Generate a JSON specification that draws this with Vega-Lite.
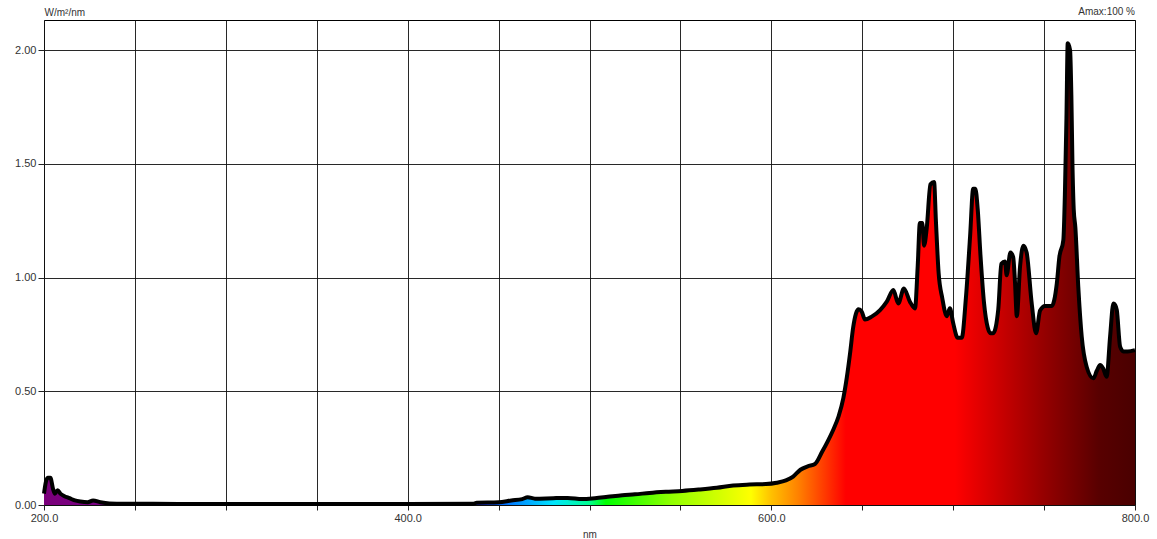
{
  "$schema": "https://vega.github.io/schema/vega-lite/v6.json",
  "width": 1091,
  "height": 485,
  "autosize": {"type": "none"},
  "padding": {"left": 44, "top": 20, "right": 22, "bottom": 34},
  "background": "white",
  "config": {
    "view": {"stroke": "black", "strokeWidth": 1},
    "font": "Liberation Sans",
    "axis": {
      "gridColor": "#111",
      "gridWidth": 1,
      "gridOpacity": 0.9,
      "domain": false,
      "tickColor": "#222",
      "labelColor": "#333",
      "labelFont": "Liberation Sans",
      "labelFontSize": 11,
      "titleFont": "Liberation Sans",
      "titleFontWeight": "normal",
      "titleColor": "#333"
    }
  },
  "title": {
    "text": "Amax:100 %",
    "anchor": "end",
    "frame": "group",
    "fontSize": 10,
    "fontWeight": "normal",
    "font": "Liberation Sans",
    "color": "#333",
    "offset": 3,
    "dy": 13
  },
  "data": {
    "values": [
      {"nm": 200, "v": 0.05}, {"nm": 201, "v": 0.1}, {"nm": 202, "v": 0.12}, {"nm": 203.5, "v": 0.12},
      {"nm": 205, "v": 0.07}, {"nm": 206, "v": 0.05}, {"nm": 207.5, "v": 0.065}, {"nm": 209, "v": 0.05},
      {"nm": 211, "v": 0.04}, {"nm": 214, "v": 0.03}, {"nm": 217, "v": 0.02}, {"nm": 220, "v": 0.015},
      {"nm": 224, "v": 0.012}, {"nm": 227, "v": 0.02}, {"nm": 231, "v": 0.012}, {"nm": 236, "v": 0.007},
      {"nm": 260, "v": 0.005}, {"nm": 300, "v": 0.004}, {"nm": 350, "v": 0.004}, {"nm": 400, "v": 0.004},
      {"nm": 436, "v": 0.005}, {"nm": 438, "v": 0.01}, {"nm": 450, "v": 0.012}, {"nm": 457, "v": 0.02},
      {"nm": 463, "v": 0.026}, {"nm": 466, "v": 0.034}, {"nm": 470, "v": 0.028}, {"nm": 480, "v": 0.03},
      {"nm": 488, "v": 0.031}, {"nm": 496, "v": 0.026}, {"nm": 503, "v": 0.03}, {"nm": 510, "v": 0.036},
      {"nm": 518, "v": 0.043}, {"nm": 525, "v": 0.047}, {"nm": 533, "v": 0.053}, {"nm": 542, "v": 0.058},
      {"nm": 551, "v": 0.062}, {"nm": 560, "v": 0.068}, {"nm": 570, "v": 0.076}, {"nm": 579, "v": 0.086},
      {"nm": 588, "v": 0.09}, {"nm": 597, "v": 0.092}, {"nm": 603, "v": 0.098}, {"nm": 608, "v": 0.108},
      {"nm": 612, "v": 0.125}, {"nm": 616, "v": 0.155}, {"nm": 620, "v": 0.17}, {"nm": 624, "v": 0.18},
      {"nm": 628, "v": 0.235}, {"nm": 631, "v": 0.28}, {"nm": 634, "v": 0.33}, {"nm": 637, "v": 0.39},
      {"nm": 639.6, "v": 0.47}, {"nm": 641.5, "v": 0.56}, {"nm": 643.3, "v": 0.667}, {"nm": 645, "v": 0.78},
      {"nm": 646.5, "v": 0.84}, {"nm": 648, "v": 0.86}, {"nm": 649.7, "v": 0.85}, {"nm": 651.5, "v": 0.815},
      {"nm": 655.2, "v": 0.828}, {"nm": 659.8, "v": 0.857}, {"nm": 663.5, "v": 0.894}, {"nm": 667.1, "v": 0.945},
      {"nm": 669.8, "v": 0.886}, {"nm": 672.9, "v": 0.952}, {"nm": 676.2, "v": 0.894}, {"nm": 679, "v": 0.864},
      {"nm": 680.5, "v": 1.05}, {"nm": 681.7, "v": 1.24}, {"nm": 683, "v": 1.24}, {"nm": 684, "v": 1.14},
      {"nm": 685.5, "v": 1.22}, {"nm": 687.5, "v": 1.41}, {"nm": 689.5, "v": 1.42}, {"nm": 690.5, "v": 1.25},
      {"nm": 692, "v": 1.02}, {"nm": 694, "v": 0.91}, {"nm": 696.5, "v": 0.83}, {"nm": 698.2, "v": 0.865},
      {"nm": 700, "v": 0.8}, {"nm": 702.5, "v": 0.735}, {"nm": 704.7, "v": 0.735}, {"nm": 707, "v": 0.91},
      {"nm": 709.3, "v": 1.18}, {"nm": 711, "v": 1.39}, {"nm": 712.2, "v": 1.39}, {"nm": 713.5, "v": 1.3},
      {"nm": 715, "v": 1.1}, {"nm": 717, "v": 0.886}, {"nm": 719, "v": 0.78}, {"nm": 720.5, "v": 0.755},
      {"nm": 722, "v": 0.755}, {"nm": 724.8, "v": 0.86}, {"nm": 726.5, "v": 1.06}, {"nm": 728.5, "v": 1.07},
      {"nm": 729.4, "v": 1.01}, {"nm": 731.5, "v": 1.11}, {"nm": 733, "v": 1.09}, {"nm": 734, "v": 0.98},
      {"nm": 735, "v": 0.83}, {"nm": 736.8, "v": 1.05}, {"nm": 738.6, "v": 1.14}, {"nm": 740.4, "v": 1.11},
      {"nm": 743.2, "v": 0.886}, {"nm": 745.6, "v": 0.755}, {"nm": 747.8, "v": 0.855}, {"nm": 750.5, "v": 0.875},
      {"nm": 754.2, "v": 0.875}, {"nm": 757, "v": 0.974}, {"nm": 758.4, "v": 1.09}, {"nm": 760.6, "v": 1.165},
      {"nm": 761.5, "v": 1.385}, {"nm": 762.3, "v": 1.7}, {"nm": 763, "v": 2.03}, {"nm": 764.3, "v": 2.0},
      {"nm": 765, "v": 1.8}, {"nm": 765.6, "v": 1.5}, {"nm": 766.3, "v": 1.3}, {"nm": 767.2, "v": 1.22},
      {"nm": 768.8, "v": 0.96}, {"nm": 770.7, "v": 0.74}, {"nm": 773.4, "v": 0.608}, {"nm": 777.1, "v": 0.557},
      {"nm": 779, "v": 0.59}, {"nm": 780.8, "v": 0.615}, {"nm": 782.5, "v": 0.6}, {"nm": 784.4, "v": 0.564},
      {"nm": 786.3, "v": 0.74}, {"nm": 788.1, "v": 0.886}, {"nm": 789, "v": 0.88}, {"nm": 790, "v": 0.857},
      {"nm": 791.8, "v": 0.696}, {"nm": 793.6, "v": 0.675}, {"nm": 796, "v": 0.675}, {"nm": 800, "v": 0.681}
    ]
  },
  "encoding": {
    "x": {
      "field": "nm",
      "type": "quantitative",
      "scale": {"domain": [200, 800], "nice": false, "zero": false},
      "axis": {
        "title": "nm",
        "titleFontSize": 10,
        "titlePadding": 6,
        "values": [200, 250, 300, 350, 400, 450, 500, 550, 600, 650, 700, 750, 800],
        "labelExpr": "datum.value % 200 == 0 ? format(datum.value, '.1f') : ''",
        "tickSize": 5,
        "labelPadding": 2,
        "labelFlush": false,
        "labelOverlap": false
      }
    },
    "y": {
      "field": "v",
      "type": "quantitative",
      "scale": {"domain": [0, 2.132], "nice": false},
      "axis": {
        "title": "W/m²/nm",
        "titleAngle": 0,
        "titleAlign": "left",
        "titleBaseline": "bottom",
        "titleX": 0,
        "titleY": -3,
        "titleFontSize": 10,
        "values": [0, 0.5, 1, 1.5, 2],
        "format": ".2f",
        "tickSize": 6,
        "labelPadding": 2
      }
    }
  },
  "layer": [
    {
      "mark": {
        "type": "area",
        "interpolate": "monotone",
        "color": {
          "gradient": "linear",
          "x1": 0, "x2": 1, "y1": 0, "y2": 0,
          "stops": [
            {"offset": 0, "color": "#7a007a"},
            {"offset": 0.33, "color": "#7a00c0"},
            {"offset": 0.4, "color": "#2030ff"},
            {"offset": 0.4167, "color": "#0060ff"},
            {"offset": 0.4667, "color": "#00e5ff"},
            {"offset": 0.5, "color": "#00ff90"},
            {"offset": 0.515, "color": "#00ff00"},
            {"offset": 0.575, "color": "#90ff00"},
            {"offset": 0.648, "color": "#ffff00"},
            {"offset": 0.6667, "color": "#ffc000"},
            {"offset": 0.6917, "color": "#ff8000"},
            {"offset": 0.735, "color": "#ff0000"},
            {"offset": 0.835, "color": "#ff0000"},
            {"offset": 0.9167, "color": "#950000"},
            {"offset": 0.967, "color": "#580000"},
            {"offset": 1, "color": "#4a0000"}
          ]
        }
      }
    },
    {
      "mark": {"type": "line", "color": "black", "strokeWidth": 4, "interpolate": "monotone"}
    }
  ]
}
